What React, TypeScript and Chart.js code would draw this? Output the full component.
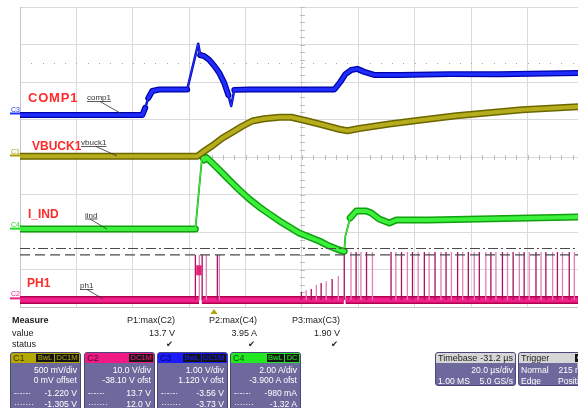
import React, { useEffect, useRef } from "react";
import { Chart, registerables } from "chart.js";

Chart.register(...registerables);

// ---------- timebase (µs) ----------
const TIME_START = -68.8;
const TIME_END = 129.1;
const GRID_TIMES = [-68.8, -48.8, -28.8, -8.8, 11.2, 31.2, 51.2, 71.2, 91.2, 111.2, 131.2];
const TRIGGER_TIME = 0;

// ---------- channel vertical settings: [center value, units per div] ----------
const C1_SETTING = [0, 0.5];
const C2_SETTING = [38.1, 10];
const C3_SETTING = [-1.12, 1];
const C4_SETTING = [3.9, 2];

// ---------- C3 COMP1 (V) ----------
const c3Time = [-68.8, -25.4, -24.4, -23.3, -21.9, -19.4, -9.5, -5.6, -4.9, -3.45, -1.7, 0.1, 1.9, 3.65, 5.1, 6.1, 7.2, 12.5, 30.2, 42.7, 44.8, 46.6, 48.7, 50.8, 53.3, 56.8, 65.7, 83.4, 101.2, 129.1];
const c3Volts = [0.0, 0.0, 0.19, 0.45, 0.64, 0.68, 0.68, 1.9, 1.6, 1.57, 1.47, 1.31, 1.12, 0.85, 0.53, 0.24, 0.67, 0.68, 0.68, 0.68, 0.88, 1.09, 1.2, 1.23, 1.15, 1.07, 1.07, 1.09, 1.09, 1.12];

// ---------- C1 VBUCK1 (V) ----------
const c1Time = [-68.8, -5.9, -3.8, -0.6, 2.9, 6.5, 10.0, 13.6, 17.8, 23.2, 27.4, 32.0, 38.4, 44.4, 47.3, 51.5, 62.2, 72.8, 85.9, 97.6, 109.3, 129.1];
const c1Volts = [0.01, 0.01, 0.07, 0.15, 0.25, 0.33, 0.41, 0.48, 0.51, 0.53, 0.53, 0.49, 0.43, 0.37, 0.35, 0.38, 0.44, 0.49, 0.55, 0.59, 0.63, 0.67];

// ---------- C4 I_IND (A) ----------
const c4Time = [-68.8, -6.6, -4.2, -3.45, -2.7, -1.0, 1.9, 5.4, 9.0, 12.5, 16.1, 19.6, 23.2, 26.7, 30.2, 33.8, 37.3, 40.9, 44.4, 46.2, 46.6, 48.3, 50.5, 54.0, 55.8, 58.6, 62.2, 64.7, 76.3, 94.1, 111.8, 129.1];
const c4Amps = [0.06, 0.06, 3.95, 3.74, 3.87, 3.63, 3.21, 2.67, 2.14, 1.66, 1.23, 0.86, 0.49, 0.17, -0.15, -0.37, -0.58, -0.85, -1.06, -1.13, -0.31, 0.65, 1.02, 1.02, 0.91, 0.59, 0.38, 0.54, 0.54, 0.59, 0.65, 0.7];

// ---------- C2 PH1 (V) ----------
const c2BaseSpans = [[-68.8, -5.3], [-4.3, 46.0], [46.7, 129.1]];
const c2BurstTime = [-6.3, -4.4];
const c2BurstVolts = [7.9, 7.9];
const c2PulseTime = [
  -6.6, -5.2, -4.2, -2.7, 1.2, 1.9,
  31.0, 32.7, 34.5, 36.3, 38.0, 39.8, 41.9, 44.1,
  46.2, 48.6, 50.4, 52.1, 54.1, 56.2, 62.8, 64.5, 66.5, 68.6, 70.4, 72.4, 74.6, 76.3, 78.4, 80.5,
  82.3, 84.2, 86.4, 88.2, 90.2, 92.3, 94.1, 96.4, 98.2, 100.0, 102.3, 104.1, 106.1, 108.3, 110.0,
  111.8, 114.2, 116.0, 117.7, 120.1, 121.8, 123.6, 126.0, 127.8,
];
const c2PulseTop = [
  12.0, 12.0, 12.0, 12.0, 12.0, 12.0,
  2.1, 2.6, 2.9, 4.0, 4.5, 5.0, 5.6, 6.4,
  13.0, 12.8, 12.8, 12.8, 12.8, 12.8, 12.8, 12.8, 12.8, 12.8, 12.8, 12.8, 12.8, 12.8, 12.8, 12.8,
  12.8, 12.8, 12.8, 12.8, 12.8, 12.8, 12.8, 12.8, 12.8, 12.8, 12.8, 12.8, 12.8, 12.8, 12.8,
  12.8, 12.8, 12.8, 12.8, 12.8, 12.8, 12.8, 12.8, 12.8,
];

// ---------- cursors (C2 units, V) ----------
const CURSOR_DASHDOT = 13.7;
const CURSOR_DASHED = 12.0;

// ---------- texts ----------
const MEASURE_COLUMNS = [
  { name: "P1:max(C2)", value: "13.7 V", right: 175 },
  { name: "P2:max(C4)", value: "3.95 A", right: 257 },
  { name: "P3:max(C3)", value: "1.90 V", right: 340 },
];
const CHANNELS = [
  { name: "C1", left: 10, color: "#b4a800", badges: ["BwL", "DC1M"], lines: ["500 mV/div", "0 mV offset"], cursors: ["-1.220 V", "-1.305 V"] },
  { name: "C2", left: 84, color: "#f01a84", badges: ["DC1M"], lines: ["10.0 V/div", "-38.10 V ofst"], cursors: ["13.7 V", "12.0 V"] },
  { name: "C3", left: 157, color: "#1a1aff", badges: ["BwL", "DC1M"], lines: ["1.00 V/div", "1.120 V ofst"], cursors: ["-3.56 V", "-3.73 V"] },
  { name: "C4", left: 230, color: "#22e822", badges: ["BwL", "DC"], lines: ["2.00 A/div", "-3.900 A ofst"], cursors: ["-980 mA", "-1.32 A"] },
];

const FONT = '"Liberation Sans", Arial, Helvetica, sans-serif';
const BOX_BG = "#6d699c";

const zip = (xs: number[], ys: number[]) => xs.map((x, i) => ({ x, y: ys[i] }));
const steep = (ctx: any) => Math.abs(ctx.p1.y - ctx.p0.y) > 3 * Math.abs(ctx.p1.x - ctx.p0.x);

function trace(data: any[], axis: string, color: string, width: number, thin: number, order: number, cap = "round") {
  return {
    data,
    yAxisID: axis,
    borderColor: color,
    borderWidth: width,
    pointRadius: 0,
    tension: 0,
    borderJoinStyle: "round",
    borderCapStyle: cap,
    spanGaps: false,
    order,
    segment: { borderWidth: (ctx: any) => (steep(ctx) ? thin : width) },
  };
}

function pulses(times: number[], tops: number[], keep: (i: number) => boolean) {
  const d: any[] = [];
  times.forEach((t, i) => {
    if (!keep(i)) return;
    d.push({ x: t, y: 0 }, { x: t, y: tops[i] }, { x: t, y: null });
  });
  return d;
}

function spans(list: number[][]) {
  const d: any[] = [];
  list.forEach(([a, b]) => d.push({ x: a, y: 0 }, { x: b, y: 0 }, { x: b, y: null }));
  return d;
}

const axisRange = (s: number[]) => ({ min: s[0] - 4 * s[1], max: s[0] + 4 * s[1] });

const MARKERS = [
  { label: "C3", axis: "y3", color: "#2233ff" },
  { label: "C1", axis: "y1", color: "#a89c00" },
  { label: "C4", axis: "y4", color: "#22dd22" },
  { label: "C2", axis: "y2", color: "#f0208a" },
];
const BIG_LABELS = [
  { text: "COMP1", x: 28, y: 102, size: 13, spacing: "0.8px" },
  { text: "VBUCK1", x: 32, y: 150, size: 12, spacing: "0px" },
  { text: "I_IND", x: 28, y: 218, size: 12, spacing: "0px" },
  { text: "PH1", x: 27, y: 287, size: 12, spacing: "0px" },
];
const TAGS = [
  { text: "comp1", x: 87, y: 100, fx: 100, toX: 122, axis: "y3" },
  { text: "vbuck1", x: 81, y: 145, fx: 96, toX: 117, axis: "y1" },
  { text: "iind", x: 85, y: 217.5, fx: 90, toX: 107, axis: "y4" },
  { text: "ph1", x: 80, y: 288, fx: 87, toX: 103, axis: "y2" },
];

const overlay = {
  id: "scopeOverlay",
  beforeDatasetsDraw(chart: any) {
    const { ctx, chartArea: a, scales } = chart;
    const xs = scales.x;
    const divW = xs.getPixelForValue(GRID_TIMES[1]) - xs.getPixelForValue(GRID_TIMES[0]);
    const divH = (a.bottom - a.top) / 8;
    const midY = scales.yg.getPixelForValue(4);
    const midX = xs.getPixelForValue(GRID_TIMES[5]);
    ctx.save();
    ctx.strokeStyle = "#bdbdbd";
    ctx.lineWidth = 1;
    ctx.beginPath();
    for (let px = a.left; px <= a.right; px += divW / 5) {
      const x = Math.round(px) + 0.5;
      ctx.moveTo(x, midY - 2);
      ctx.lineTo(x, midY + 3);
    }
    for (let py = a.top; py <= a.bottom; py += divH / 5) {
      const y = Math.round(py) + 0.5;
      ctx.moveTo(midX - 2, y);
      ctx.lineTo(midX + 3, y);
    }
    ctx.stroke();
    const dotY = Math.round(scales.yg.getPixelForValue(6.5));
    ctx.fillStyle = "#a8a8a8";
    for (let px = a.left + divW / 5; px <= a.right; px += divW / 5) ctx.fillRect(Math.round(px), dotY, 1, 1);
    ctx.restore();
  },
  afterDatasetsDraw(chart: any) {
    const { ctx, chartArea: a, scales } = chart;
    ctx.save();
    MARKERS.forEach((m) => {
      const y0 = scales[m.axis].getPixelForValue(0);
      ctx.fillStyle = m.color;
      ctx.font = `7px ${FONT}`;
      ctx.textBaseline = "alphabetic";
      ctx.fillText(m.label, 11, y0 - 3.5);
      ctx.strokeStyle = m.color;
      ctx.lineWidth = 2;
      ctx.beginPath();
      ctx.moveTo(10, y0 - 1.5);
      ctx.lineTo(a.left, y0 - 1.5);
      ctx.stroke();
    });
    BIG_LABELS.forEach((l) => {
      ctx.font = `bold ${l.size}px ${FONT}`;
      (ctx as any).letterSpacing = l.spacing;
      ctx.fillStyle = "#ff2b2b";
      ctx.fillText(l.text, l.x, l.y);
    });
    (ctx as any).letterSpacing = "0px";
    TAGS.forEach((t) => {
      ctx.font = `8px ${FONT}`;
      ctx.fillStyle = "#333";
      ctx.fillText(t.text, t.x, t.y);
      const w = ctx.measureText(t.text).width;
      ctx.strokeStyle = "#333";
      ctx.lineWidth = 0.8;
      ctx.beginPath();
      ctx.moveTo(t.x, t.y + 1.5);
      ctx.lineTo(t.x + w, t.y + 1.5);
      ctx.moveTo(t.fx, t.y + 1.5);
      ctx.lineTo(t.toX, scales[t.axis].getPixelForValue(0) - 1);
      ctx.stroke();
    });
    const tx = scales.x.getPixelForValue(TRIGGER_TIME);
    ctx.fillStyle = "#b0a200";
    ctx.beginPath();
    ctx.moveTo(tx, a.bottom + 2);
    ctx.lineTo(tx - 3.5, a.bottom + 7);
    ctx.lineTo(tx + 3.5, a.bottom + 7);
    ctx.closePath();
    ctx.fill();
    ctx.restore();
  },
};

function ScopeChart() {
  const ref = useRef<HTMLCanvasElement | null>(null);
  useEffect(() => {
    if (!ref.current) return;
    const c3 = zip(c3Time, c3Volts);
    const c1 = zip(c1Time, c1Volts);
    const c4 = zip(c4Time, c4Amps);
    const c2 = spans(c2BaseSpans);
    const burst = zip(c2BurstTime, c2BurstVolts);
    const full = [{ x: TIME_START, y: 0 }, { x: TIME_END, y: 0 }];
    const cursorDD = full.map((p) => ({ x: p.x, y: CURSOR_DASHDOT }));
    const cursorD = full.map((p) => ({ x: p.x, y: CURSOR_DASHED }));
    const chart = new Chart(ref.current, {
      type: "line",
      data: {
        datasets: [
          { data: cursorDD, yAxisID: "y2", borderColor: "#4a4a4a", borderWidth: 1.2, borderDash: [10, 3, 2, 3], pointRadius: 0, order: 1 },
          { data: cursorD, yAxisID: "y2", borderColor: "#4a4a4a", borderWidth: 1.2, borderDash: [10, 5], pointRadius: 0, order: 1 },
          trace(c3, "y3", "#1f2dff", 3.5, 1.2, 11) as any,
          trace(c3, "y3", "#0000a8", 6, 2.5, 12) as any,
          trace(c1, "y1", "#b6ad1c", 4, 1.2, 13) as any,
          trace(c1, "y1", "#6c6600", 7, 2, 14) as any,
          trace(c4, "y4", "#3cf03c", 4, 1, 15) as any,
          trace(c4, "y4", "#10a010", 7, 1.8, 16) as any,
          trace(burst, "y2", "#e8207a", 10, 10, 17, "butt") as any,
          { data: pulses(c2PulseTime, c2PulseTop, (i) => i % 2 === 0), yAxisID: "y2", borderColor: "#a81060", borderWidth: 1.3, pointRadius: 0, spanGaps: false, order: 18 },
          { data: pulses(c2PulseTime, c2PulseTop, (i) => i % 2 === 1), yAxisID: "y2", borderColor: "#e27fb4", borderWidth: 1.3, pointRadius: 0, spanGaps: false, order: 18 },
          trace(c2, "y2", "#f2208a", 5, 5, 19, "butt") as any,
          trace(c2, "y2", "#b0004e", 8, 8, 20, "butt") as any,
        ],
      },
      options: {
        animation: false,
        responsive: false,
        events: [],
        layout: { padding: { left: 20, top: 7, right: 0, bottom: 101 } },
        plugins: { legend: { display: false }, tooltip: { enabled: false } },
        scales: {
          x: {
            type: "linear",
            min: TIME_START,
            max: TIME_END,
            afterBuildTicks: (s: any) => {
              s.ticks = GRID_TIMES.filter((v) => v <= TIME_END).map((v) => ({ value: v }));
            },
            ticks: { display: false },
            grid: { color: "#dadada", drawTicks: false, lineWidth: 1 },
            border: { display: true, color: "#c4c4c4" },
          },
          yg: {
            type: "linear",
            position: "left",
            min: 0,
            max: 8,
            ticks: { display: false, stepSize: 1 },
            grid: { color: "#dadada", drawTicks: false, lineWidth: 1 },
            border: { display: true, color: "#c4c4c4" },
          },
          y1: { type: "linear", display: false, ...axisRange(C1_SETTING) },
          y2: { type: "linear", display: false, ...axisRange(C2_SETTING) },
          y3: { type: "linear", display: false, ...axisRange(C3_SETTING) },
          y4: { type: "linear", display: false, ...axisRange(C4_SETTING) },
        },
      } as any,
      plugins: [overlay],
    });
    return () => chart.destroy();
  }, []);
  return <canvas ref={ref} width={578} height={408} style={{ position: "absolute", left: 0, top: 0, display: "block" }} />;
}

function Badge({ text, color }: { text: string; color: string }) {
  return (
    <span style={{ background: "#141414", color, fontSize: 7.5, lineHeight: "8px", height: 8, padding: "0 1.5px", marginLeft: 1, display: "inline-block" }}>
      {text}
    </span>
  );
}

function ChannelBox({ ch }: { ch: any }) {
  const row = (top: number): React.CSSProperties => ({ position: "absolute", top, left: 0, right: 0, height: 11, lineHeight: "11px" });
  return (
    <div style={{ position: "absolute", left: ch.left, top: 352, width: 71, height: 64, background: BOX_BG, border: "1px solid #4a477a", borderRadius: 3, boxSizing: "border-box", overflow: "hidden", color: "#fff", fontSize: 8.6 }}>
      <div style={{ height: 10, background: ch.color, display: "flex", alignItems: "center", justifyContent: "space-between", padding: "0 1px 0 2px" }}>
        <span style={{ color: "rgba(0,0,0,0.72)", fontSize: 9, lineHeight: "10px" }}>{ch.name}</span>
        <span style={{ display: "flex" }}>
          {ch.badges.map((b: string) => (
            <Badge key={b} text={b} color={ch.color} />
          ))}
        </span>
      </div>
      <div style={row(11.5)}><span style={{ position: "absolute", right: 3 }}>{ch.lines[0]}</span></div>
      <div style={row(22)}><span style={{ position: "absolute", right: 3 }}>{ch.lines[1]}</span></div>
      <div style={row(34.5)}>
        <span style={{ position: "absolute", left: 3 }}>-·-·-·</span>
        <span style={{ position: "absolute", right: 3 }}>{ch.cursors[0]}</span>
      </div>
      <div style={row(45.5)}>
        <span style={{ position: "absolute", left: 3 }}>·······</span>
        <span style={{ position: "absolute", right: 3 }}>{ch.cursors[1]}</span>
      </div>
    </div>
  );
}

function InfoBox({ left, width, title, titleRight, badge, rows }: any) {
  return (
    <div style={{ position: "absolute", left, top: 352, width, height: 34, background: BOX_BG, border: "1px solid #4a477a", borderRadius: 3, boxSizing: "border-box", overflow: "hidden", color: "#fff", fontSize: 8.6 }}>
      <div style={{ position: "relative", height: 10, background: "#d6d6d6", color: "#222", fontSize: 9, lineHeight: "10px" }}>
        <span style={{ position: "absolute", left: 2 }}>{title}</span>
        {titleRight && <span style={{ position: "absolute", right: 2 }}>{titleRight}</span>}
        {badge && <span style={{ position: "absolute", left: 56, top: 1, height: 8, background: "#141414", color: "#fff", fontSize: 7.5, lineHeight: "8px", padding: "0 2px" }}>{badge}</span>}
      </div>
      {rows.map((r: string[], i: number) => (
        <div key={i} style={{ position: "absolute", top: 12 + i * 10.8, left: 0, right: 0, height: 11, lineHeight: "11px" }}>
          <span style={{ position: "absolute", left: 2 }}>{r[0]}</span>
          <span style={{ position: "absolute", right: 2 }}>{r[1]}</span>
        </div>
      ))}
    </div>
  );
}

export default function App() {
  const txt: React.CSSProperties = { position: "absolute", fontSize: 9, lineHeight: "11px", color: "#222", whiteSpace: "nowrap" };
  return (
    <div style={{ position: "fixed", left: 0, top: 0, width: 578, height: 408, overflow: "hidden", background: "#fff", fontFamily: FONT }}>
      <ScopeChart />
      <div style={{ ...txt, left: 12, top: 315, fontWeight: "bold" }}>Measure</div>
      <div style={{ ...txt, left: 12, top: 327.5 }}>value</div>
      <div style={{ ...txt, left: 12, top: 339 }}>status</div>
      {MEASURE_COLUMNS.map((m) => (
        <React.Fragment key={m.name}>
          <div style={{ ...txt, left: m.right - 80, width: 80, textAlign: "right", top: 315 }}>{m.name}</div>
          <div style={{ ...txt, left: m.right - 80, width: 80, textAlign: "right", top: 327.5 }}>{m.value}</div>
          <div style={{ ...txt, left: m.right - 82, width: 80, textAlign: "right", top: 339, fontFamily: '"DejaVu Sans", sans-serif', fontSize: 8.5 }}>✔</div>
        </React.Fragment>
      ))}
      {CHANNELS.map((ch) => (
        <ChannelBox key={ch.name} ch={ch} />
      ))}
      <InfoBox left={435} width={81} title="Timebase" titleRight="-31.2 µs" rows={[["", "20.0 µs/div"], ["1.00 MS", "5.0 GS/s"]]} />
      <InfoBox left={518} width={73} title="Trigger" badge="C2 DC" rows={[["Normal", "215 mV"], ["Edge", "Positive"]]} />
    </div>
  );
}
